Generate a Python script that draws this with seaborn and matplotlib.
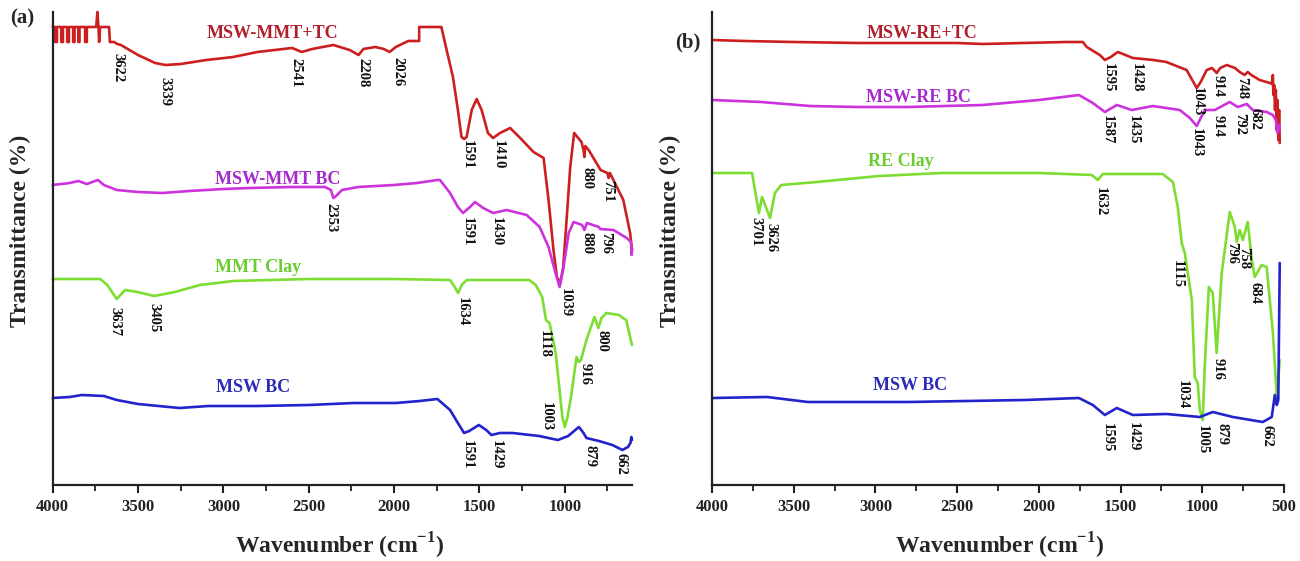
import matplotlib
matplotlib.use("Agg")
import matplotlib.pyplot as plt
from matplotlib.ticker import MultipleLocator
import seaborn as sns
import pandas as pd

# ---------------- data (wavenumber, offset transmittance) ----------------
# Panel (a)
a_tc_w = [4000,3985,3985,3975,3975,3950,3950,3940,3940,3915,3915,3905,3905,3880,3880,3872,3872,3850,3850,3843,3843,3810,3810,3800,3800,3745,3738,3732,3728,3722,3670,3665,3640,3622,3600,3500,3400,3339,3250,3100,2943,2800,2650,2597,2541,2480,2356,2260,2208,2180,2110,2060,2026,1990,1917,1853,1853,1723,1692,1655,1626,1605,1590,1575,1545,1516,1487,1450,1420,1379,1320,1261,1183,1124,1095,1066,1046,1026,1009,988,968,945,902,890,885,880,860,790,750,743,735,715,657,617,606]
a_tc_t = [458,458,443,443,458,458,443,443,458,458,443,443,458,458,443,443,458,458,443,443,458,458,443,443,458,458,473,458,443,458,458,443,443,441,440,430,422,420,421,425,428,433,436,437,433,436,440,435,430,436,438,436,433,438,444,444,458,458,435,408,375,348,346,348,375,386,375,352,347,352,357,347,333,327,285,235,208,202,218,268,318,352,343,335,328,339,335,315,312,307,312,305,285,252,235]

a_bc_w = [4000,3950,3900,3850,3800,3735,3700,3625,3500,3357,3200,3000,2843,2600,2405,2370,2356,2340,2305,2210,2000,1866,1746,1731,1672,1626,1596,1555,1526,1478,1420,1340,1223,1147,1095,1054,1030,1007,977,948,899,885,870,800,792,715,637,612,608,606]
a_bc_t = [300,301,302,304,301,305,300,295,293,292,294,296,297,298,298,295,287,289,295,298,300,302,305,305,292,278,272,278,283,277,272,275,270,258,238,212,198,218,252,263,260,255,262,258,256,255,247,243,230,237]

a_clay_w = [4000,3722,3680,3625,3576,3503,3406,3284,3137,2943,2500,2000,1672,1645,1625,1600,1573,1208,1170,1132,1110,1089,1053,1014,1000,985,966,931,918,905,873,826,803,785,756,682,659,640,620,606]
a_clay_t = [206,206,200,186,195,193,189,193,200,204,206,206,205,198,192,201,205,205,200,188,165,162,132,68,58,67,85,128,123,125,145,168,157,167,172,170,167,165,150,140]

a_msw_w = [4000,3900,3830,3700,3625,3500,3380,3258,3088,2800,2500,2234,1989,1850,1746,1672,1626,1590,1560,1503,1460,1430,1380,1306,1150,1040,980,917,890,873,800,721,662,630,615,610,606]
a_msw_t = [87,88,90,89,85,81,79,77,79,79,80,82,82,84,86,75,62,52,54,60,55,50,52,52,49,45,49,58,52,47,44,40,35,38,42,48,45]

# Panel (b)
b_tc_w = [4000,3800,3500,3107,2800,2500,2343,2100,1829,1731,1707,1627,1596,1560,1517,1470,1425,1300,1220,1096,1034,1010,973,940,912,890,850,800,771,741,722,700,649,587,575,568,565,560,555,550,545,540,535,530,526]
b_tc_t = [445,444,443,442,442,442,441,442,443,443,438,430,425,428,433,430,427,425,423,415,397,403,415,417,412,417,420,417,413,410,413,410,405,402,401,410,390,400,375,395,355,385,345,375,342]

b_bc_w = [4000,3700,3400,3107,2800,2343,2000,1755,1670,1596,1523,1431,1303,1138,1076,1034,985,924,832,783,728,691,606,568,550,538,530,526]
b_bc_t = [385,383,379,378,378,380,385,390,382,373,380,375,379,375,367,359,375,375,383,378,381,375,373,370,365,352,360,357]

b_clay_w = [4000,3755,3713,3694,3645,3615,3577,3358,2979,2594,2000,1676,1639,1609,1242,1180,1150,1126,1107,1064,1046,1028,1015,997,985,960,936,912,881,832,801,789,771,752,722,697,679,637,606,568,544,535,526]
b_clay_t = [312,312,272,288,267,292,300,303,309,312,312,310,305,311,311,303,278,242,232,185,108,102,75,65,118,198,192,132,212,273,258,243,255,245,263,225,208,220,218,152,88,105,125]

b_msw_w = [4000,3664,3413,2800,2086,1755,1670,1596,1523,1425,1220,1015,936,813,630,575,556,544,535,526]
b_msw_t = [87,88,83,83,85,87,80,70,77,70,71,68,73,68,63,68,90,80,85,222]

# series names
a_names = ["MSW-MMT+TC", "MSW-MMT BC", "MMT Clay", "MSW BC"]
b_names = ["MSW-RE+TC", "MSW-RE BC", "RE Clay", "MSW BC"]

# peak labels: (text, wavenumber, top)
a_peaks = [("3622",3617,432),("3339",3342,408),("2541",2575,427),("2208",2185,427),("2026",1977,428),
           ("1591",1573,345),("1410",1391,345),("880",867,318),("751",747,305),
           ("2353",2370,282),("1591",1573,268),("1430",1403,268),("880",867,253),("796",758,253),
           ("1039",999,197),("3637",3635,178),("3405",3407,182),("1634",1599,188),("1118",1122,155),
           ("916",882,122),("800",782,155),("1003",1110,83),
           ("1591",1570,45),("1429",1403,45),("879",852,40),("662",670,32)]
b_peaks = [("1595",1578,422),("1428",1401,422),("1043",1028,398),("914",905,410),("748",758,408),
           ("1587",1584,370),("1435",1425,370),("1043",1034,357),("914",905,370),("792",771,372),("682",679,377),
           ("3701",3731,268),("3626",3639,262),("1632",1627,298),("1115",1156,225),("796",820,243),
           ("758",745,238),("684",679,203),("916",905,127),("1034",1125,105),
           ("1595",1584,62),("1429",1425,63),("1005",997,60),("879",881,62),("662",606,60)]

line_colors = ["#CC1F1F", "#CC33DD", "#7EDD33", "#2323CC"]
text_colors = ["#B0202C", "#A52ACC", "#6ACC2E", "#2B2BB8"]
a_name_pos = [(2715,452),(2680,305),(2797,217),(2827,98)]
b_name_pos = [(2716,452),(2734,388),(2844,323),(2789,99)]

# ---------------- style ----------------
sns.set_style("ticks")
plt.rcParams['font.family'] = ['Liberation Serif', 'DejaVu Serif']
plt.rcParams['font.weight'] = 'bold'
plt.rcParams['mathtext.fontset'] = 'custom'
plt.rcParams['mathtext.bf'] = 'Liberation Serif:bold'
plt.rcParams['mathtext.rm'] = 'Liberation Serif:bold'

fig = plt.figure(figsize=(13, 5.61), dpi=100)
axa = fig.add_axes([52.7/1300, 76/561, 579.3/1300, 473/561])
axb = fig.add_axes([712/1300, 76/561, 572/1300, 473/561])

def draw(ax, series, names, name_pos, peaks, xmin):
    for (w, t), c in zip(series, line_colors):
        df = pd.DataFrame({"w": w, "t": t})
        sns.lineplot(data=df, x="w", y="t", ax=ax, color=c, lw=1.9,
                     sort=False, estimator=None, clip_on=False)
    for name, (x, y), c in zip(names, name_pos, text_colors):
        ax.text(x, y, name, color=c, fontsize=13, fontweight='bold',
                ha='center', va='center')
    for txt, x, y in peaks:
        ax.text(x, y, txt, rotation=270, fontsize=10.5, fontweight='bold',
                ha='center', va='top', color='#111111')
    ax.set_xlim(4000, xmin)
    ax.set_ylim(0, 473)
    ax.set_yticks([])
    ax.xaxis.set_major_locator(MultipleLocator(500))
    ax.xaxis.set_minor_locator(MultipleLocator(250))
    ax.tick_params(axis='x', which='major', direction='out', length=6, width=1.5,
                   labelsize=12, colors='#222222', pad=4)
    ax.tick_params(axis='x', which='minor', direction='out', length=4, width=1.3,
                   colors='#222222')
    for lab in ax.get_xticklabels():
        lab.set_fontweight('bold')
    for s in ['top', 'right']:
        ax.spines[s].set_visible(False)
    for s in ['left', 'bottom']:
        ax.spines[s].set_linewidth(1.6)
        ax.spines[s].set_color('#222222')
    ax.set_xlabel(r"Wavenumber (cm$^{\mathbf{-1}}$)", fontsize=17, fontweight='bold')
    ax.set_ylabel("Transmittance (%)", fontsize=17, fontweight='bold')

draw(axa, [(a_tc_w, a_tc_t), (a_bc_w, a_bc_t), (a_clay_w, a_clay_t), (a_msw_w, a_msw_t)],
     a_names, a_name_pos, a_peaks, 606)
draw(axb, [(b_tc_w, b_tc_t), (b_bc_w, b_bc_t), (b_clay_w, b_clay_t), (b_msw_w, b_msw_t)],
     b_names, b_name_pos, b_peaks, 500)

axa.xaxis.set_label_coords(0.496, -0.096)
axb.xaxis.set_label_coords(0.502, -0.096)
axa.yaxis.set_label_coords(-0.038, 0.537)
axb.yaxis.set_label_coords(-0.055, 0.537)

fig.text(22/1300, 1 - 18/561, "(a)", fontsize=15, fontweight='bold', ha='center', va='center')
fig.text(688/1300, 1 - 42/561, "(b)", fontsize=15, fontweight='bold', ha='center', va='center')

fig.savefig("out.png", dpi=100)
